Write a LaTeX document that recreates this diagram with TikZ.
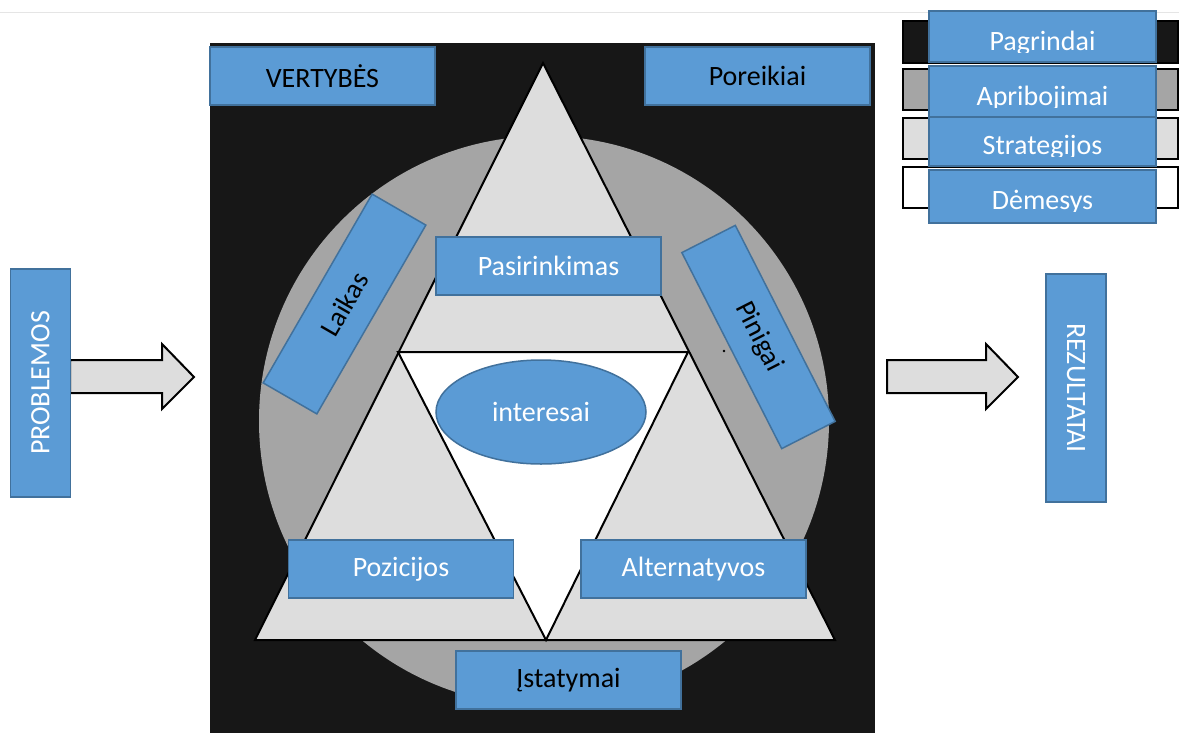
\documentclass[tikz,border=0pt]{standalone}
\usepackage{fontspec}
\setmainfont{Carlito}
\usetikzlibrary{shapes.geometric}
\definecolor{bluefill}{HTML}{5B9BD5}
\definecolor{blueedge}{HTML}{41719C}
\definecolor{bgblack}{HTML}{171717}
\definecolor{circgray}{HTML}{A5A5A5}
\definecolor{trigray}{HTML}{DDDDDD}
\begin{document}
\begin{tikzpicture}[x=1pt,y=-1pt,
  bluebox/.style={draw=blueedge, fill=bluefill, line width=1.5pt, minimum width=225pt, minimum height=58pt, inner sep=0pt, font=\fontsize{28}{30}\selectfont},
  vbox/.style={bluebox, minimum width=228pt, minimum height=60pt},
  legrect/.style={draw=black, line width=2pt},
  legbox/.style={draw=blueedge, fill=bluefill, line width=1.5pt, minimum width=227pt, inner sep=0pt},
  legtext/.style={text=white, inner sep=0pt, font=\fontsize{28}{30}\selectfont},
  arrowshape/.style={fill=trigray, draw=black, line width=2pt, line join=miter},
  edge/.style={draw=black, line width=2pt, line join=miter}]
\useasboundingbox (0,0) rectangle (1179,740);
\fill[white] (0,0) rectangle (1179,740);
\draw[black!10, line width=1pt] (0,12) -- (1179,12);

% main black panel
\fill[bgblack] (210,43) rectangle (875,733);
\node[bluebox] (vert) at (322.5,76) {VERTYBĖS};
\node[bluebox] (por) at (757.5,76) {Poreikiai};

% grey circle
\fill[circgray] (544,421) circle (285);

% triangles
\fill[trigray] (543,63) -- (835,640) -- (255,640) -- cycle;
\filldraw[fill=white, edge] (398,352) -- (688,352) -- (546,640) -- cycle;
\draw[edge] (543,63) -- (835,640) -- (255,640) -- cycle;

% nodes inside
\node[bluebox, text=white] (pas) at (548.5,266) {Pasirinkimas};
\node[ellipse, draw=blueedge, fill=bluefill, line width=1.5pt, minimum width=210pt, minimum height=104pt, inner sep=0pt, text=white, font=\fontsize{28}{30}\selectfont] (int) at (541,412) {interesai};
\node[bluebox, text=white] (poz) at (401,569) {Pozicijos};
\node[bluebox, text=white] (alt) at (693.5,569) {Alternatyvos};
\node[bluebox] (ist) at (568.5,680) {Įstatymai};
\node[bluebox, minimum width=218pt, minimum height=62pt, rotate=60] (lai) at (344.5,304) {Laikas};
\node[bluebox, minimum width=220pt, minimum height=60pt, rotate=-63] (pin) at (758.5,337) {Pinigai};
\fill[black] (724,351) circle (1.3);

% arrows
\filldraw[arrowshape] (70,360) -- (162,360) -- (162,344) -- (194,377) -- (162,409) -- (162,393) -- (70,393) -- cycle;
\filldraw[arrowshape] (887,360) -- (986,360) -- (986,344) -- (1018,377) -- (986,409) -- (986,393) -- (887,393) -- cycle;
\node[vbox, text=white, rotate=90] (prob) at (40.5,383) {PROBLEMOS};
\node[vbox, text=white, rotate=-90] (rez) at (1076,388) {REZULTATAI};

% legend
\filldraw[legrect, fill=bgblack] (903,21) rectangle (1178,63);
\filldraw[legrect, fill=circgray] (903,69) rectangle (1178,110);
\filldraw[legrect, fill=trigray] (903,118) rectangle (1178,159);
\filldraw[legrect, fill=white] (903,167) rectangle (1178,208);

\node[legbox, minimum height=51pt] (lpag) at (1042.5,36.5) {};
\begin{scope}
\clip (929,11) rectangle (1156,52.5);
\node[legtext, anchor=base] (tpag) at (1042.5,50) {Pagrindai};
\end{scope}
\node[legbox, minimum height=51pt] (lapr) at (1042.5,91.5) {};
\begin{scope}
\clip (929,66) rectangle (1156,107.5);
\node[legtext, anchor=base] (tapr) at (1042.5,105) {Apribojimai};
\end{scope}
\node[legbox, minimum height=49pt] (lstr) at (1042.5,141.5) {};
\begin{scope}
\clip (929,117) rectangle (1156,156.5);
\node[legtext, anchor=base] (tstr) at (1042.5,154) {Strategijos};
\end{scope}
\node[legbox, minimum height=53pt] (ldem) at (1042.5,196.5) {};
\begin{scope}
\clip (929,170) rectangle (1156,211.5);
\node[legtext, anchor=base] (tdem) at (1042.5,209) {Dėmesys};
\end{scope}
\end{tikzpicture}
\end{document}
